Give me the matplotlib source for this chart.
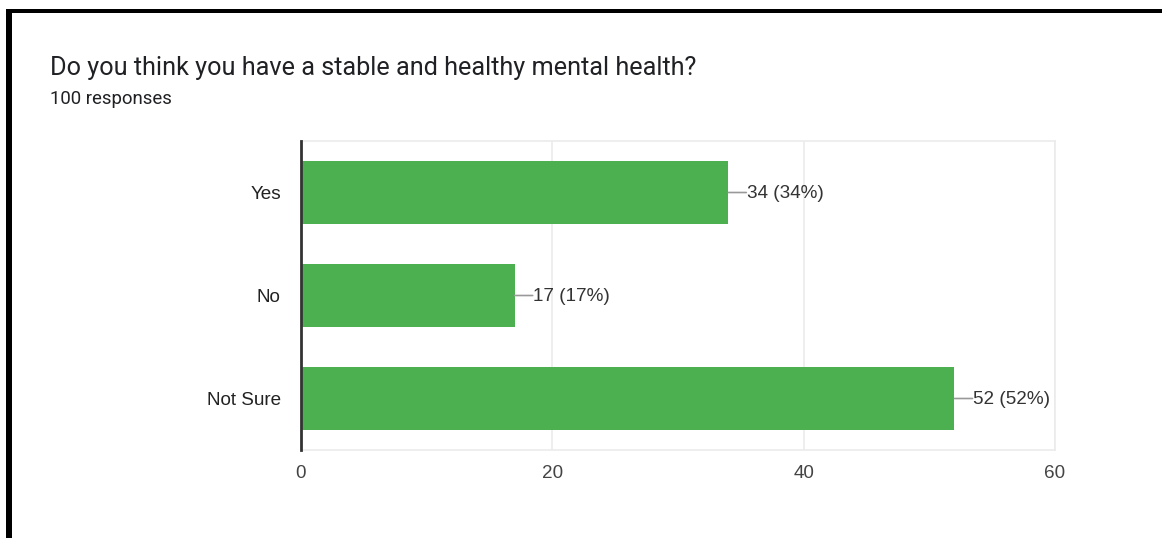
import matplotlib
matplotlib.use('Agg')
import matplotlib.pyplot as plt
from matplotlib.patches import Rectangle

# survey answers, top to bottom
answers = ['Yes', 'No', 'Not Sure']
counts = [34, 17, 52]
total = 100
x_ticks = [0, 20, 40, 60]

title = 'Do you think you have a stable and healthy mental health?'
subtitle = '100 responses'

W, H = 1162, 538
fig = plt.figure(figsize=(W / 100, H / 100), dpi=100)
fig.patch.set_facecolor('white')

# black frame around the card (left and top edges)
fig.patches.append(Rectangle((6 / W, 0), 6 / W, 1 - 9 / H, transform=fig.transFigure,
                             facecolor='black', edgecolor='none'))
fig.patches.append(Rectangle((6 / W, 1 - 13 / H), 1, 4 / H, transform=fig.transFigure,
                             facecolor='black', edgecolor='none'))

fig.text(50 / W, 1 - 75 / H, title, fontsize=18.2, family='Roboto',
         color='#202124', va='baseline', ha='left')
fig.text(50 / W, 1 - 104 / H, subtitle, fontsize=13.4, family='Roboto',
         color='#202124', va='baseline', ha='left')

ax = fig.add_axes([301 / W, 1 - 450 / H, (1055 - 301) / W, (450 - 141) / H])
pos = list(range(len(answers)))
ax.barh(pos, counts, height=0.61, color='#4caf50', zorder=2)
ax.set_ylim(len(answers) - 0.5, -0.5)
ax.set_xlim(0, 60)
ax.set_xticks(x_ticks)
ax.set_yticks(pos)
ax.set_yticklabels(answers)

font = dict(family=['Liberation Sans', 'DejaVu Sans'], size=13.6)
for lab in ax.get_xticklabels() + ax.get_yticklabels():
    lab.set_fontfamily(font['family'])
    lab.set_fontsize(font['size'])
ax.tick_params(axis='x', length=0, pad=10.5, colors='#444444')
ax.tick_params(axis='y', length=0, pad=14.5, colors='#222222')

ax.grid(axis='x', color='#ebebeb', linewidth=1.2, zorder=0)
for side in ['top', 'right', 'bottom']:
    ax.spines[side].set_color('#ebebeb')
    ax.spines[side].set_linewidth(1.2)
ax.spines['left'].set_color('#333333')
ax.spines['left'].set_linewidth(2)
ax.spines['left'].set_zorder(3)

for p, c in zip(pos, counts):
    # short leader line from the bar end to the value label
    ax.annotate('', xy=(c, p), xytext=(13, 0), textcoords='offset points',
                arrowprops=dict(arrowstyle='-', color='#999999', lw=1.2,
                                shrinkA=0, shrinkB=0))
    ax.annotate(f'{c} ({c * 100 // total}%)', xy=(c, p), xytext=(13.5, -1),
                textcoords='offset points', va='center', ha='left',
                color='#333333', fontfamily=font['family'], fontsize=font['size'])

fig.savefig('out.png', dpi=100, facecolor='white')
